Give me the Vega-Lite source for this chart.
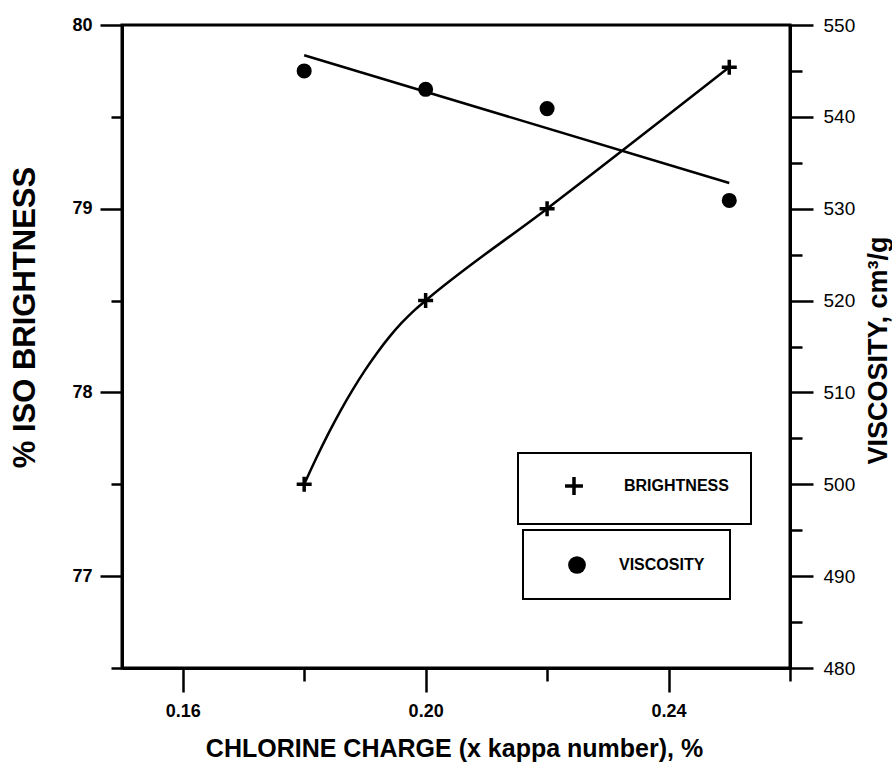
{
  "$schema": "https://vega.github.io/schema/vega-lite/v6.json",
  "width": 668,
  "height": 643,
  "autosize": {"type": "none"},
  "padding": {"left": 122, "top": 25, "right": 102, "bottom": 101},
  "background": "white",
  "config": {
    "view": {"stroke": "black", "strokeWidth": 3},
    "font": "Liberation Sans",
    "axis": {
      "domainColor": "black",
      "domainWidth": 3,
      "tickColor": "black",
      "tickWidth": 2.5,
      "grid": false,
      "labelColor": "black",
      "titleColor": "black",
      "labelFont": "Liberation Sans",
      "titleFont": "Liberation Sans"
    },
    "legend": {
      "strokeColor": "black",
      "strokeWidth": 2,
      "padding": 22,
      "labelFont": "Liberation Sans",
      "labelFontSize": 16,
      "labelFontWeight": "bold",
      "labelColor": "black",
      "fillColor": "white"
    }
  },
  "datasets": {
    "brightness_points": [
      {"charge": 0.18, "brightness": 77.5},
      {"charge": 0.20, "brightness": 78.5},
      {"charge": 0.22, "brightness": 79.0},
      {"charge": 0.25, "brightness": 79.77}
    ],
    "brightness_curve": [
      {"charge": 0.18, "brightness": 77.5},
      {"charge": 0.182, "brightness": 77.643},
      {"charge": 0.184, "brightness": 77.777},
      {"charge": 0.186, "brightness": 77.901},
      {"charge": 0.188, "brightness": 78.015},
      {"charge": 0.190, "brightness": 78.12},
      {"charge": 0.192, "brightness": 78.215},
      {"charge": 0.194, "brightness": 78.301},
      {"charge": 0.196, "brightness": 78.377},
      {"charge": 0.198, "brightness": 78.443},
      {"charge": 0.20, "brightness": 78.5},
      {"charge": 0.22, "brightness": 79.0},
      {"charge": 0.25, "brightness": 79.77}
    ],
    "viscosity_points": [
      {"charge": 0.18, "viscosity": 545.0},
      {"charge": 0.20, "viscosity": 543.0},
      {"charge": 0.22, "viscosity": 540.9},
      {"charge": 0.25, "viscosity": 530.9}
    ],
    "viscosity_fit": [
      {"charge": 0.18, "viscosity": 546.7},
      {"charge": 0.25, "viscosity": 532.8}
    ]
  },
  "encoding": {
    "x": {
      "field": "charge",
      "type": "quantitative",
      "scale": {"domain": [0.15, 0.26], "nice": false, "zero": false},
      "axis": {
        "values": [0.16, 0.18, 0.2, 0.22, 0.24, 0.26],
        "labelExpr": "(abs(datum.value-0.16)<0.001||abs(datum.value-0.2)<0.001||abs(datum.value-0.24)<0.001) ? format(datum.value,'.2f') : ''",
        "tickSize": {"condition": {"test": "abs(datum.value-0.16)<0.001||abs(datum.value-0.2)<0.001||abs(datum.value-0.24)<0.001", "value": 24}, "value": 13},
        "labelFontSize": 18,
        "labelFontWeight": "bold",
        "labelPadding": 10,
        "labelFlush": false,
        "title": "CHLORINE CHARGE (x kappa number), %",
        "titleFontSize": 25,
        "titleFontWeight": "bold",
        "titleX": 332,
        "titleY": 80,
        "titleBaseline": "middle",
        "titleAlign": "center"
      }
    }
  },
  "layer": [
    {
      "encoding": {
        "y": {
          "field": "brightness",
          "type": "quantitative",
          "scale": {"domain": [76.5, 80], "nice": false, "zero": false},
          "axis": {
            "orient": "left",
            "values": [76.5, 77, 77.5, 78, 78.5, 79, 79.5, 80],
            "labelExpr": "datum.value % 1 == 0 ? format(datum.value,'d') : ''",
            "tickSize": {"condition": {"test": "datum.value % 1 == 0", "value": 22}, "value": 11},
            "labelFontSize": 18,
            "labelFontWeight": "bold",
            "labelPadding": 8,
            "labelFlush": false,
            "title": "% ISO BRIGHTNESS",
            "titleFontSize": 31,
            "titleFontWeight": "bold",
            "titleAngle": 270,
            "titleX": -97,
            "titleY": 292,
            "titleAlign": "center",
            "titleBaseline": "middle"
          }
        }
      },
      "layer": [
        {
          "data": {"name": "brightness_curve"},
          "mark": {"type": "line", "interpolate": "monotone", "color": "black", "strokeWidth": 2.5}
        },
        {
          "data": {"name": "brightness_points"},
          "mark": {"type": "point", "filled": false, "stroke": "black", "strokeWidth": 3.5, "size": 225, "opacity": 1},
          "encoding": {
            "shape": {
              "datum": "BRIGHTNESS",
              "scale": {"domain": ["BRIGHTNESS"], "range": ["M-1,0H1M0,-1V1"]},
              "legend": {
                "title": null,
                "orient": "none",
                "legendX": 396,
                "legendY": 428,
                "symbolSize": 320,
                "symbolStrokeWidth": 3.5,
                "symbolStrokeColor": "black",
                "symbolFillColor": "transparent",
                "symbolOffset": 23,
                "labelOffset": 39
              }
            }
          }
        }
      ]
    },
    {
      "encoding": {
        "y": {
          "field": "viscosity",
          "type": "quantitative",
          "scale": {"domain": [480, 550], "nice": false, "zero": false},
          "axis": {
            "orient": "right",
            "values": [480, 485, 490, 495, 500, 505, 510, 515, 520, 525, 530, 535, 540, 545, 550],
            "labelExpr": "datum.value % 10 == 0 ? format(datum.value,'d') : ''",
            "tickSize": {"condition": {"test": "datum.value % 10 == 0", "value": 23}, "value": 12},
            "labelFontSize": 19,
            "labelFontWeight": "normal",
            "labelPadding": 10,
            "labelFlush": false,
            "title": "VISCOSITY, cm³/g",
            "titleFontSize": 27,
            "titleFontWeight": "bold",
            "titleAngle": 270,
            "titleX": 88,
            "titleY": 325,
            "titleAlign": "center",
            "titleBaseline": "middle"
          }
        }
      },
      "layer": [
        {
          "data": {"name": "viscosity_fit"},
          "mark": {"type": "line", "color": "black", "strokeWidth": 2.5}
        },
        {
          "data": {"name": "viscosity_points"},
          "mark": {"type": "point", "filled": true, "shape": "circle", "size": 227, "opacity": 1},
          "encoding": {
            "color": {
              "datum": "VISCOSITY",
              "scale": {"domain": ["VISCOSITY"], "range": ["black"]},
              "legend": {
                "title": null,
                "orient": "none",
                "legendX": 401,
                "legendY": 505,
                "padding": 25,
                "symbolType": "circle",
                "symbolSize": 314,
                "symbolFillColor": "black",
                "symbolOffset": 19,
                "labelOffset": 32,
                "labelExpr": "datum.label + '\u00a0\u00a0\u00a0\u00a0'"
              }
            }
          }
        }
      ]
    }
  ],
  "resolve": {"scale": {"y": "independent"}}
}
